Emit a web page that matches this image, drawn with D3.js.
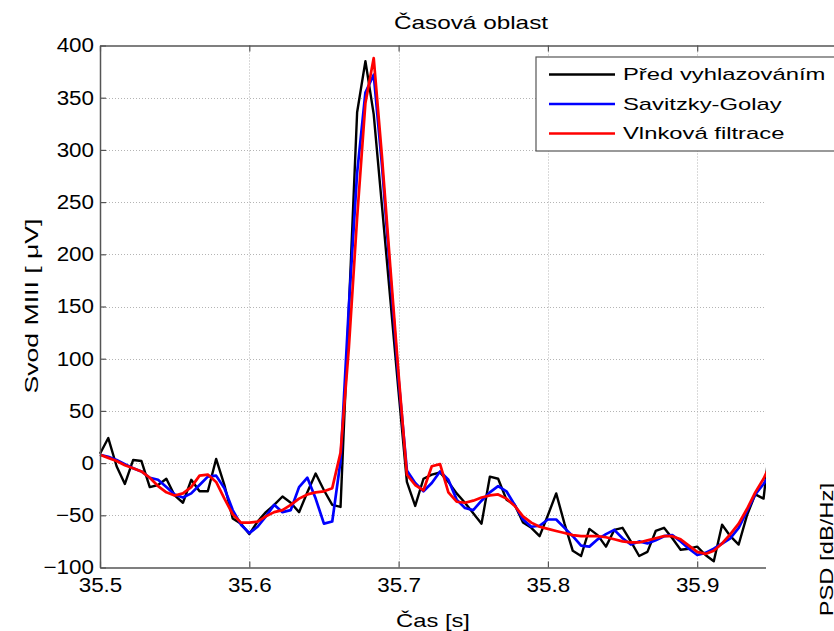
<!DOCTYPE html>
<html lang="cs">
<head>
<meta charset="UTF-8">
<title>Časová oblast</title>
<script src="https://d3js.org/d3.v7.min.js"></script>
<style>
  body { margin: 0; background: #fff; }
  svg text { font-family: "Liberation Sans", Arial, sans-serif; fill: #000; }
</style>
</head>
<body>
<svg width="834" height="631"></svg>
<script>
// ECG lead MIII, samples from 35.5 s at 180 Hz
const t0 = 35.5, fs = 180;
const raw = [9, 24, -3, -20, 3, 2, -23, -21, -15, -31, -38, -16, -27, -27, 4, -21, -53, -58, -68, -56,
  -47, -40, -32, -38, -47, -28, -10, -26, -40, -42, 147, 336, 385, 334, 246, 157, 68, -18, -41, -15,
  -11, -9, -18, -29, -38, -48, -58, -13, -15, -35, -40, -57, -62, -70, -50, -29, -58, -84, -89, -63,
  -69, -80, -64, -62, -75, -89, -85, -65, -62, -72, -83, -82, -80, -88, -94, -59, -70, -78, -50, -30,
  -34, 35];
const sgolay = [8, 6, 3, -1, -5, -8, -14, -16, -23, -30, -33, -29, -21, -13, -12, -24, -45, -59, -67, -61,
  -51, -40, -47, -45, -23, -14, -34, -58, -56, 2, 150, 278, 355, 372, 285, 180, 80, -7, -19, -27,
  -19, -8, -16, -35, -43, -45, -36, -28, -22, -27, -40, -54, -61, -60, -54, -54, -62, -70, -79, -80,
  -73, -68, -64, -72, -78, -75, -77, -74, -70, -69, -75, -82, -88, -86, -82, -77, -72, -62, -46, -30,
  -20, -8];
const wavelet = [8, 5, 2, -2, -5, -8, -14, -22, -28, -31, -29, -23, -12, -11, -18, -34, -49, -57, -57, -56,
  -51, -47, -45, -40, -34, -30, -28, -27, -24, 10, 110, 235, 345, 388, 293, 188, 85, -11, -21, -26,
  -3, -1, -28, -37, -38, -36, -33, -31, -30, -34, -41, -51, -57, -61, -63, -65, -67, -69, -70, -70,
  -70, -71, -73, -75, -76, -76, -74, -72, -70, -70, -73, -79, -85, -87, -84, -77, -68, -58, -44, -28,
  -15, 2];

const seriesNames = ["Před vyhlazováním", "Savitzky-Golay", "Vlnková filtrace"];
const seriesColors = ["#000000", "#0000ff", "#ff0000"];
const xTicks = [35.5, 35.6, 35.7, 35.8, 35.9, 36];
const yTicks = [-100, -50, 0, 50, 100, 150, 200, 250, 300, 350, 400];

const svg = d3.select("svg");
const x = d3.scaleLinear().domain([35.5, 36]).range([100, 846.5]);
const y = d3.scaleLinear().domain([-100, 400]).range([567.5, 45.5]);
const axisColor = "#555";

// stretch text horizontally to match the wide font of the original
function stretch(sel, k) {
  sel.each(function () {
    const w = this.getComputedTextLength();
    d3.select(this).attr("textLength", w * k).attr("lengthAdjust", "spacingAndGlyphs");
  });
}

// grid
const grid = svg.append("g").attr("stroke", "#b4b4b4").attr("stroke-dasharray", "1,2").attr("stroke-width", 1);
grid.selectAll(".gx").data(xTicks.slice(1, -1)).join("line")
  .attr("x1", d => Math.round(x(d)) + 0.5).attr("x2", d => Math.round(x(d)) + 0.5)
  .attr("y1", y(400)).attr("y2", y(-100));
grid.selectAll(".gy").data(yTicks.slice(1, -1)).join("line")
  .attr("y1", d => Math.round(y(d)) + 0.5).attr("y2", d => Math.round(y(d)) + 0.5)
  .attr("x1", x(35.5)).attr("x2", x(36));

// series
const line = d3.line().x((d, i) => x(t0 + i / fs)).y(d => y(d));
[raw, sgolay, wavelet].forEach((s, k) => {
  svg.append("path").datum(s)
    .attr("fill", "none")
    .attr("stroke", seriesColors[k])
    .attr("stroke-width", k === 0 ? 2.4 : 2.7)
    .attr("stroke-linejoin", "round")
    .attr("d", line);
});

// axes
const gBottom = svg.append("g").attr("transform", `translate(0,${y(-100)})`)
  .call(d3.axisBottom(x).tickValues(xTicks).tickSizeInner(-6).tickSizeOuter(0).tickPadding(10)
    .tickFormat(d3.format(".1f")));
const gTop = svg.append("g").attr("transform", `translate(0,${y(400)})`)
  .call(d3.axisTop(x).tickValues(xTicks).tickSizeInner(-6).tickSizeOuter(0).tickFormat(""));
const gLeft = svg.append("g").attr("transform", `translate(${x(35.5)},0)`)
  .call(d3.axisLeft(y).tickValues(yTicks).tickSizeInner(-6).tickSizeOuter(0).tickPadding(6));
[gBottom, gTop, gLeft].forEach(g => {
  g.select(".domain").attr("stroke", axisColor).attr("stroke-width", 1.5);
  g.selectAll(".tick line").attr("stroke", axisColor).attr("stroke-width", 1.2);
  g.selectAll(".tick text").attr("font-family", null).attr("font-size", 20).attr("fill", "#000");
});
stretch(gBottom.selectAll(".tick text"), 1.12);
stretch(gLeft.selectAll(".tick text"), 1.12);

// panel on the right overlapping this one
svg.append("rect").attr("x", 766).attr("y", 160).attr("width", 68).attr("height", 471).attr("fill", "#fff");

// legend
const lg = svg.append("g");
lg.append("rect").attr("x", 536).attr("y", 57).attr("width", 320).attr("height", 94)
  .attr("fill", "#fff").attr("stroke", axisColor).attr("stroke-width", 1.2);
seriesNames.forEach((name, k) => {
  const yy = 74.5 + k * 29.5;
  lg.append("line").attr("x1", 549).attr("x2", 615).attr("y1", yy).attr("y2", yy)
    .attr("stroke", seriesColors[k]).attr("stroke-width", 2.6);
  lg.append("text").attr("x", 623).attr("y", yy + 5.5).attr("font-size", 17).text(name);
});
stretch(lg.selectAll("text"), 1.4);

// titles
const title = svg.append("text").attr("x", 471).attr("y", 29).attr("text-anchor", "middle")
  .attr("font-size", 19).text("Časová oblast");
stretch(title, 1.28);
const xl = svg.append("text").attr("x", 433).attr("y", 627).attr("text-anchor", "middle")
  .attr("font-size", 19).text("Čas [s]");
stretch(xl, 1.25);
const yl = svg.append("text").attr("transform", "translate(38,306) rotate(-90)").attr("text-anchor", "middle")
  .attr("font-size", 19).text("Svod MIII [ μV]");
stretch(yl, 1.4);
const psd = svg.append("text").attr("transform", "translate(833,483) rotate(-90)").attr("text-anchor", "end")
  .attr("font-size", 19).text("PSD [dB/Hz]");
stretch(psd, 1.25);
</script>
</body>
</html>
